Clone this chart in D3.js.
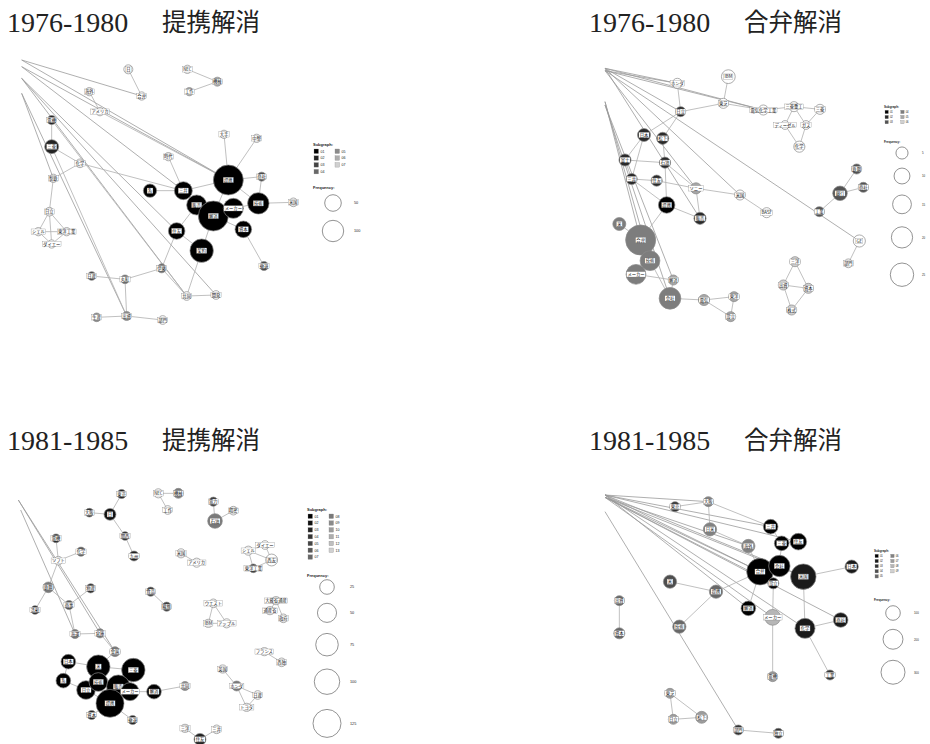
<!DOCTYPE html>
<html lang="ja">
<head>
  <meta charset="UTF-8">
  <title>提携解消・合弁解消 共起ネットワーク</title>
  <script src="https://d3js.org/d3.v7.min.js"></script>
  <style>
    body { margin: 0; background: #fff; }
    svg { display: block; }
    .title-num { font-family: "Liberation Serif", "DejaVu Serif", serif; font-size: 28px; fill: #222; }
    .title-jp { font-family: "Noto Sans CJK JP", sans-serif; font-size: 24.5px; fill: #222; }
    .node-label { font-family: "Noto Sans CJK JP", sans-serif; font-size: 4.3px; fill: #111; }
    .legend text { font-family: "Liberation Sans", "DejaVu Sans", sans-serif; fill: #222; }
  </style>
</head>
<body>
<svg id="chart" width="930" height="744"></svg>
<script>
// ---- 1976-1980 提携解消 ----  [label, x, y, frequency, subgraph]
const nodesA = [
  ["日", 385, 88, 6, 0], ["合弁", 425, 168, 4, 0], ["NEC", 562, 88, 4, 0],
  ["機械", 652, 125, 6, 6], ["工作", 568, 155, 4, 6], ["海外", 268, 155, 4, 0],
  ["アメリカ", 300, 215, 4, 0], ["電機", 155, 240, 6, 2], ["三菱", 155, 320, 30, 2],
  ["化学", 240, 370, 5, 0], ["製鉄", 160, 415, 4, 0], ["日立", 148, 515, 5, 0],
  ["シェル", 115, 575, 4, 0], ["東洋工業", 200, 575, 4, 0], ["ダイエー", 155, 612, 4, 0],
  ["時代", 505, 350, 4, 0], ["大手", 672, 283, 4, 0], ["中堅", 770, 295, 4, 0],
  ["提携", 685, 420, 232, 1], ["商社", 785, 410, 6, 3], ["米国", 880, 487, 5, 0],
  ["技術", 775, 490, 100, 1], ["系", 450, 452, 26, 1], ["三井", 550, 452, 63, 1],
  ["販売", 590, 495, 84, 1], ["解消", 640, 528, 232, 1], ["メーカー", 700, 505, 84, 1],
  ["資本", 730, 568, 50, 1], ["住友", 530, 573, 50, 1], ["契約", 605, 632, 126, 1],
  ["撤退", 792, 678, 6, 3], ["伊藤", 485, 685, 6, 4], ["丸紅", 375, 718, 5, 4],
  ["日産", 275, 708, 5, 3], ["共同", 560, 768, 5, 0], ["開発", 648, 765, 5, 0],
  ["出資", 380, 828, 6, 5], ["生産", 290, 832, 5, 5], ["部門", 488, 840, 5, 0]
];
const hubsA = [["h1", 65, 60], ["h2", 65, 80], ["h3", 65, 115], ["h4", 65, 160]];
const edgesA = [
  ["h1", "合弁"], ["h1", "提携"], ["h2", "提携"], ["h2", "三井"], ["h3", "開発"],
  ["h3", "共同"], ["h4", "製鉄"], ["h4", "出資"], ["h3", "住友"],
  ["日", "合弁"], ["NEC", "機械"], ["工作", "機械"], ["海外", "アメリカ"], ["アメリカ", "提携"],
  ["電機", "三菱"], ["電機", "共同"], ["三菱", "化学"], ["三菱", "出資"], ["化学", "製鉄"],
  ["化学", "三井"], ["製鉄", "日立"], ["日立", "シェル"], ["日立", "東洋工業"], ["日立", "ダイエー"],
  ["シェル", "東洋工業"], ["シェル", "ダイエー"], ["ダイエー", "東洋工業"],
  ["時代", "三井"], ["大手", "提携"], ["中堅", "提携"], ["提携", "商社"], ["提携", "解消"],
  ["提携", "三井"], ["提携", "技術"], ["商社", "技術"], ["米国", "技術"], ["系", "三井"],
  ["三井", "販売"], ["三井", "解消"], ["販売", "解消"], ["解消", "メーカー"], ["メーカー", "技術"],
  ["解消", "資本"], ["販売", "住友"], ["解消", "契約"], ["住友", "契約"], ["資本", "撤退"],
  ["住友", "伊藤"], ["伊藤", "丸紅"], ["丸紅", "日産"], ["伊藤", "共同"], ["共同", "開発"],
  ["契約", "共同"], ["丸紅", "出資"], ["出資", "生産"], ["出資", "部門"]
];
const freqA = [50, 100];
const groupsA = ["01", "02", "03", "04", "05", "06", "07"];

// ---- 1976-1980 合弁解消 ----
const nodesB = [
  ["ホンダ", 262, 100, 3, 0], ["IBM", 415, 80, 7, 0], ["東芝", 400, 160, 3, 0],
  ["電気化学工業", 520, 180, 3, 0], ["三菱重工", 612, 170, 3, 0], ["三菱", 690, 178, 3, 0],
  ["ディーゼル", 585, 225, 2, 0], ["ガス", 648, 225, 2, 0], ["化学", 628, 290, 4, 0],
  ["日立", 272, 185, 3, 2], ["日本", 162, 255, 6, 2], ["松下", 218, 265, 5, 2],
  ["富士", 105, 330, 5, 2], ["石油", 225, 338, 4, 2], ["三井", 125, 387, 4, 2],
  ["住友", 200, 392, 4, 2], ["ソニー", 318, 415, 4, 5], ["提携", 230, 465, 11, 1],
  ["販売", 330, 505, 5, 2], ["米国", 450, 435, 3, 0], ["BASF", 530, 488, 3, 0],
  ["鉄鋼", 800, 357, 3, 3], ["銀行", 750, 430, 8, 3], ["商社", 820, 412, 3, 3],
  ["工業", 688, 485, 3, 3], ["GE", 808, 573, 5, 0], ["部門", 775, 640, 2, 0],
  ["米", 88, 522, 6, 4], ["合弁", 152, 570, 44, 4], ["技術", 180, 632, 17, 4],
  ["メーカー", 138, 673, 17, 4], ["会社", 240, 745, 21, 4], ["解消", 250, 690, 3, 5],
  ["電気", 342, 750, 4, 5], ["東洋", 432, 740, 3, 5], ["設立", 422, 800, 3, 5],
  ["三洋", 615, 635, 3, 6], ["出資", 580, 705, 3, 6], ["資本", 655, 715, 3, 6],
  ["株式", 605, 780, 3, 6]
];
const hubsB = [["h1", 45, 55], ["h2", 45, 62], ["h3", 45, 155], ["h4", 45, 165]];
const edgesB = [
  ["h1", "ホンダ"], ["h2", "ホンダ"], ["h1", "電気化学工業"], ["h2", "電気化学工業"],
  ["h1", "日立"], ["h2", "ソニー"], ["h1", "米国"], ["h2", "GE"], ["h1", "販売"],
  ["h3", "合弁"], ["h3", "技術"], ["h4", "解消"], ["h4", "会社"],
  ["IBM", "東芝"], ["ホンダ", "日立"], ["東芝", "日立"], ["東芝", "電気化学工業"],
  ["電気化学工業", "三菱重工"], ["三菱重工", "三菱"], ["三菱重工", "ディーゼル"], ["三菱重工", "ガス"],
  ["ディーゼル", "化学"], ["ガス", "化学"], ["三菱", "ガス"], ["日立", "日本"], ["日立", "松下"],
  ["日本", "富士"], ["日本", "三井"], ["松下", "石油"], ["富士", "石油"], ["富士", "三井"],
  ["三井", "住友"], ["住友", "ソニー"], ["石油", "提携"], ["石油", "ソニー"], ["提携", "販売"],
  ["ソニー", "販売"], ["ソニー", "米国"], ["米国", "BASF"], ["三井", "提携"], ["提携", "合弁"],
  ["鉄鋼", "銀行"], ["商社", "銀行"], ["銀行", "工業"], ["GE", "部門"], ["米", "合弁"],
  ["合弁", "技術"], ["技術", "メーカー"], ["メーカー", "解消"], ["技術", "会社"], ["解消", "会社"],
  ["会社", "電気"], ["電気", "東洋"], ["電気", "設立"], ["東洋", "設立"], ["三洋", "出資"],
  ["三洋", "資本"], ["出資", "資本"], ["出資", "株式"], ["資本", "株式"]
];
const freqB = [5, 10, 15, 20, 25];
const groupsB = ["01", "02", "03", "04", "05", "06"];

// ---- 1981-1985 提携解消 ----
const nodesC = [
  ["東京", 365, 72, 6, 3], ["大阪", 268, 128, 5, 3], ["日", 330, 133, 14, 2],
  ["関西", 375, 198, 5, 3], ["九州", 402, 258, 8, 3], ["NEC", 475, 70, 6, 0],
  ["機械", 535, 70, 8, 8], ["工作", 503, 120, 5, 0], ["電力", 640, 95, 6, 4],
  ["精密", 700, 122, 5, 0], ["石油", 645, 153, 25, 8], ["電機", 168, 205, 5, 3],
  ["化学", 243, 245, 6, 6], ["ソフト", 175, 272, 5, 0], ["鉄鋼", 145, 352, 10, 8],
  ["造船", 105, 420, 5, 3], ["商事", 207, 405, 6, 6], ["物産", 272, 355, 6, 3],
  ["海運", 225, 492, 6, 8], ["倉庫", 300, 490, 6, 8], ["金属", 345, 545, 8, 8],
  ["食品", 452, 365, 6, 4], ["繊維", 500, 410, 6, 4], ["米国", 543, 250, 6, 0],
  ["アメリカ", 590, 278, 6, 0], ["シェル", 745, 242, 6, 0], ["ダイエー", 795, 225, 5, 0],
  ["西友", 815, 270, 14, 0], ["東洋工業", 760, 295, 5, 4], ["ウエスト", 640, 400, 5, 0],
  ["IBM", 625, 460, 4, 0], ["アップル", 680, 460, 6, 0], ["大蔵省通産", 828, 392, 4, 0],
  ["通産省", 810, 422, 4, 0], ["政府", 850, 445, 5, 0], ["フランス", 793, 545, 4, 0],
  ["西独", 845, 577, 5, 0], ["英国", 668, 597, 4, 0], ["ホンダ", 710, 648, 8, 8],
  ["日産", 773, 675, 5, 0], ["トヨタ", 740, 712, 4, 0], ["三洋", 555, 775, 4, 0],
  ["三井", 650, 778, 5, 0], ["住友", 600, 808, 14, 3],
  ["日本", 205, 575, 25, 1], ["系", 190, 632, 25, 1], ["米", 295, 590, 82, 1],
  ["三菱", 400, 600, 82, 1], ["日立", 258, 660, 47, 1], ["技術", 295, 636, 47, 1],
  ["販売", 355, 650, 82, 1], ["提携", 330, 700, 125, 1], ["メーカー", 390, 665, 43, 1],
  ["解消", 462, 665, 25, 1], ["共同", 555, 648, 6, 9], ["資本", 275, 735, 6, 3],
  ["撤退", 398, 750, 6, 3]
];
const hubsC = [["h1", 55, 90], ["h2", 62, 120]];
const edgesC = [
  ["h1", "倉庫"], ["h1", "金属"], ["h2", "海運"],
  ["東京", "日"], ["大阪", "日"], ["日", "関西"], ["関西", "九州"], ["NEC", "機械"], ["NEC", "工作"],
  ["電力", "石油"], ["石油", "精密"], ["電機", "ソフト"], ["化学", "ソフト"], ["ソフト", "鉄鋼"],
  ["鉄鋼", "造船"], ["鉄鋼", "商事"], ["商事", "物産"], ["商事", "海運"], ["海運", "倉庫"],
  ["倉庫", "金属"], ["金属", "米"], ["食品", "繊維"], ["米国", "アメリカ"], ["シェル", "ダイエー"],
  ["シェル", "東洋工業"], ["ダイエー", "西友"], ["東洋工業", "西友"], ["シェル", "西友"],
  ["ウエスト", "IBM"], ["ウエスト", "アップル"], ["IBM", "アップル"], ["大蔵省通産", "通産省"],
  ["大蔵省通産", "政府"], ["フランス", "西独"], ["英国", "ホンダ"], ["ホンダ", "日産"],
  ["ホンダ", "トヨタ"], ["日産", "トヨタ"], ["三洋", "住友"], ["三井", "住友"],
  ["日本", "米"], ["系", "日本"], ["系", "日立"], ["米", "三菱"], ["米", "技術"], ["米", "日立"],
  ["技術", "販売"], ["販売", "三菱"], ["日立", "提携"], ["技術", "提携"], ["販売", "提携"],
  ["販売", "メーカー"], ["メーカー", "三菱"], ["メーカー", "解消"], ["解消", "共同"],
  ["提携", "資本"], ["提携", "撤退"], ["日立", "技術"], ["メーカー", "提携"]
];
const freqC = [25, 50, 75, 100, 125];
const groupsC = ["01", "02", "03", "04", "05", "06", "07", "08", "09", "10", "11", "12", "13"];

// ---- 1981-1985 合弁解消 ----
const nodesD = [
  ["東京", 255, 80, 41, 3], ["大阪", 355, 65, 41, 6], ["日米", 360, 148, 80, 6],
  ["海外", 475, 198, 80, 6], ["三井", 542, 140, 100, 1], ["三菱", 575, 190, 100, 1],
  ["住友", 625, 185, 134, 1], ["合弁", 510, 275, 375, 1], ["会社", 568, 258, 234, 1],
  ["米国", 640, 290, 340, 2], ["設立", 550, 310, 52, 1], ["日本", 785, 260, 80, 2],
  ["米", 240, 305, 80, 4], ["提携", 378, 335, 80, 5], ["技術", 268, 440, 80, 5],
  ["出資", 88, 362, 41, 5], ["資本", 88, 460, 52, 5], ["解消", 475, 385, 100, 1],
  ["メーカー", 548, 412, 120, 8], ["化学", 645, 445, 202, 2], ["商社", 752, 420, 100, 2],
  ["電機", 548, 590, 41, 7], ["工業", 720, 585, 41, 3], ["東芝", 240, 640, 41, 7],
  ["日立", 250, 718, 41, 7], ["松下", 335, 712, 63, 7], ["部門", 445, 750, 41, 3],
  ["独立", 565, 760, 41, 3]
];
const hubsD = [["h1", 45, 45], ["h2", 45, 52], ["h3", 45, 95]];
const edgesD = [
  ["h1", "大阪"], ["h1", "三井"], ["h2", "海外"], ["h1", "住友"], ["h1", "合弁"], ["h2", "合弁"],
  ["h1", "会社"], ["h2", "米国"], ["h1", "解消"], ["h2", "メーカー"], ["h1", "化学"], ["h2", "商社"],
  ["h2", "設立"], ["h3", "部門"],
  ["東京", "大阪"], ["大阪", "日米"], ["大阪", "三井"], ["日米", "海外"], ["海外", "合弁"],
  ["三井", "三菱"], ["三菱", "住友"], ["三菱", "会社"], ["会社", "合弁"], ["合弁", "設立"],
  ["会社", "米国"], ["米国", "日本"], ["米", "提携"], ["提携", "技術"], ["提携", "合弁"],
  ["出資", "資本"], ["解消", "合弁"], ["メーカー", "設立"], ["メーカー", "電機"], ["化学", "商社"],
  ["化学", "工業"], ["米国", "化学"], ["東芝", "日立"], ["東芝", "松下"], ["日立", "松下"],
  ["部門", "独立"]
];
const freqD = [100, 200, 300];
const groupsD = ["01", "02", "03", "04", "05", "06", "07", "08", "09"];

const svg = d3.select("#chart");

function drawPanel(p) {
  const g = svg.append("g");

  // title
  g.append("text").attr("class", "title-num").attr("x", p.tx).attr("y", p.ty).text(p.years);
  g.append("text").attr("class", "title-jp").attr("x", p.tx + 155).attr("y", p.ty - 1).text(p.word);

  // layout coordinates -> pixels
  const x = d3.scaleLinear().domain([0, 900]).range([p.ox, p.ox + 300]);
  const y = d3.scaleLinear().domain([0, 900]).range([p.oy, p.oy + 300]);
  const r = d3.scaleSqrt().domain([0, d3.max(p.freqs)]).range(p.rRange);
  const color = d3.scaleLinear().domain([1, p.groups.length]).range(["#000000", "#d0d0d0"]);

  const pos = new Map();
  p.nodes.forEach(d => pos.set(d[0], d));
  p.hubs.forEach(d => pos.set(d[0], [d[0], d[1], d[2], 0, -1]));
  const isHub = name => p.hubs.some(h => h[0] === name);

  const links = p.edges.filter(e => pos.has(e[0]) && pos.has(e[1]));
  g.append("g").selectAll("line")
    .data(links)
    .join("line")
    .attr("x1", d => x(pos.get(d[0])[1]))
    .attr("y1", d => y(pos.get(d[0])[2]))
    .attr("x2", d => x(pos.get(d[1])[1]))
    .attr("y2", d => y(pos.get(d[1])[2]))
    .attr("stroke", d => isHub(d[0]) ? "#9a9a9a" : "#b0b0b0")
    .attr("stroke-width", 0.8);

  const node = g.append("g").selectAll("g")
    .data(p.nodes)
    .join("g")
    .attr("transform", d => `translate(${x(d[1])},${y(d[2])})`);

  node.append("circle")
    .attr("r", d => r(d[3]))
    .attr("fill", d => d[4] > 0 ? color(d[4]) : "#fff")
    .attr("stroke", "#8a8a8a")
    .attr("stroke-width", 0.7);

  node.each(function(d) {
    const n = d3.select(this);
    const rect = n.append("rect").attr("fill", "#fff").attr("stroke", "#666").attr("stroke-width", 0.25);
    const txt = n.append("text").attr("class", "node-label")
      .attr("text-anchor", "middle").attr("dy", "0.35em").text(d[0]);
    const w = txt.node().getComputedTextLength();
    rect.attr("x", -w / 2 - 0.8).attr("y", -2.7).attr("width", w + 1.6).attr("height", 5.4);
  });

  // legend
  const s = p.ls;
  const lg = g.append("g").attr("class", "legend");
  lg.append("text").attr("x", p.lx).attr("y", p.subY).attr("font-size", 4 * s).attr("font-weight", "bold").text("Subgraph:");
  const perCol = Math.ceil(p.groups.length / 2);
  const sw = lg.selectAll("g.sw").data(p.groups).join("g").attr("class", "sw")
    .attr("transform", (d, i) => `translate(${p.lx + 1 + Math.floor(i / perCol) * 21 * s},${p.subY + 3 * s + (i % perCol) * 6.8 * s})`);
  sw.append("rect").attr("width", 4.5 * s).attr("height", 4.5 * s)
    .attr("fill", (d, i) => color(i + 1)).attr("stroke", "#888").attr("stroke-width", 0.3);
  sw.append("text").attr("x", 6.5 * s).attr("y", 3.6 * s).attr("font-size", 3.6 * s).text(d => d);

  lg.append("text").attr("x", p.lx).attr("y", p.freqY).attr("font-size", 4 * s).attr("font-weight", "bold").text("Frequency:");
  let cy = p.cy0 - r(p.freqs[0]) - 7;
  let prev = 0;
  p.freqs.forEach((f, i) => {
    cy += prev + r(f) + 7 + 2 * i;
    prev = r(f);
    lg.append("circle").attr("cx", p.cx).attr("cy", cy).attr("r", r(f))
      .attr("fill", "none").attr("stroke", "#777").attr("stroke-width", 0.8);
    lg.append("text").attr("x", p.labX).attr("y", cy + 1.3).attr("font-size", 3.8 * s).text(f);
  });
}

drawPanel({ years: "1976-1980", word: "提携解消", tx: 7, ty: 32, ox: 0, oy: 40,
  nodes: nodesA, hubs: hubsA, edges: edgesA, freqs: freqA, groups: groupsA, rRange: [2.5, 10.7],
  ls: 1, lx: 313, subY: 146, freqY: 189, cx: 333, cy0: 203, labX: 354 });
drawPanel({ years: "1976-1980", word: "合弁解消", tx: 589, ty: 32, ox: 590, oy: 50,
  nodes: nodesB, hubs: hubsB, edges: edgesB, freqs: freqB, groups: groupsB, rRange: [1.5, 11.7],
  ls: 0.75, lx: 884, subY: 108, freqY: 143, cx: 902, cy0: 153, labX: 922 });
drawPanel({ years: "1981-1985", word: "提携解消", tx: 7, ty: 450, ox: 0, oy: 470,
  nodes: nodesC, hubs: hubsC, edges: edgesC, freqs: freqC, groups: groupsC, rRange: [1.9, 14],
  ls: 1, lx: 307, subY: 511, freqY: 577, cx: 327, cy0: 587, labX: 350 });
drawPanel({ years: "1981-1985", word: "合弁解消", tx: 589, ty: 450, ox: 590, oy: 480,
  nodes: nodesD, hubs: hubsD, edges: edgesD, freqs: freqD, groups: groupsD, rRange: [0.9, 12],
  ls: 0.75, lx: 874, subY: 552, freqY: 601, cx: 893, cy0: 613, labX: 914 });
</script>
</body>
</html>
